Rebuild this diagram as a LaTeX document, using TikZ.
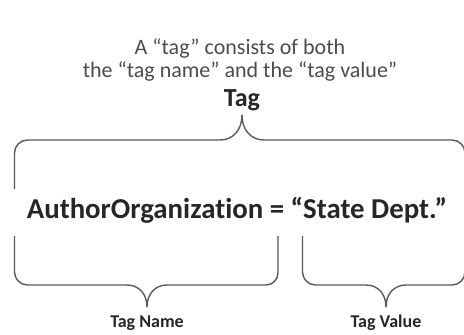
\documentclass[tikz,border=0pt]{standalone}
\usepackage{fontspec}
\setmainfont[Ligatures={NoCommon}]{Carlito}
\begin{document}
\begin{tikzpicture}[x=1pt,y=-1pt,
  brace/.style={draw=black!65,line width=1.4pt,line join=round},
  caption/.style={font=\fontsize{22}{23}\selectfont,text=black!70,anchor=base},
  label/.style={font=\bfseries\fontsize{18}{20}\selectfont,text=black!85,anchor=base}]
\useasboundingbox (0,0) rectangle (464,335);
\clip (0,0) rectangle (464,335);

% heading
\node[caption] (head1) at (240,54) {A “tag” consists of both};
\node[caption] (head2) at (240,77) {the “tag name” and the “tag value”};
\node[font=\bfseries\fontsize{26}{30}\selectfont,text=black!85,anchor=base] (tag) at (242,106) {Tag};

% the statement
\node[font=\bfseries\fontsize{28.8}{32}\selectfont,text=black!85,anchor=base] (stmt) at (237,218)
  {AuthorOrganization = “State Dept.”};

% brace over the whole statement
\draw[brace] (14.5,189) -- (14.5,153) arc[start angle=180,end angle=270,radius=13]
  -- (220,140) .. controls (233,140) and (242,130) .. (242,115)
  .. controls (242,130) and (251,140) .. (264,140)
  -- (452,140) arc[start angle=270,end angle=360,radius=13] -- (465,189);

% brace under the name
\draw[brace] (14.5,236) -- (14.5,272) arc[start angle=180,end angle=90,radius=13]
  -- (127,285) .. controls (139,285) and (147,294) .. (147,307)
  .. controls (147,294) and (155,285) .. (167,285)
  -- (266,285) arc[start angle=90,end angle=0,radius=12] -- (278,236);

% brace under the value
\draw[brace] (302.5,236) -- (302.5,272) arc[start angle=180,end angle=90,radius=13]
  -- (366,285) .. controls (378,285) and (386,294) .. (386,307)
  .. controls (386,294) and (394,285) .. (406,285)
  -- (452,285) arc[start angle=90,end angle=0,radius=13] -- (465,236);

\node[label] (name) at (147,327) {Tag Name};
\node[label] (value) at (386,327) {Tag Value};
\end{tikzpicture}
\end{document}
